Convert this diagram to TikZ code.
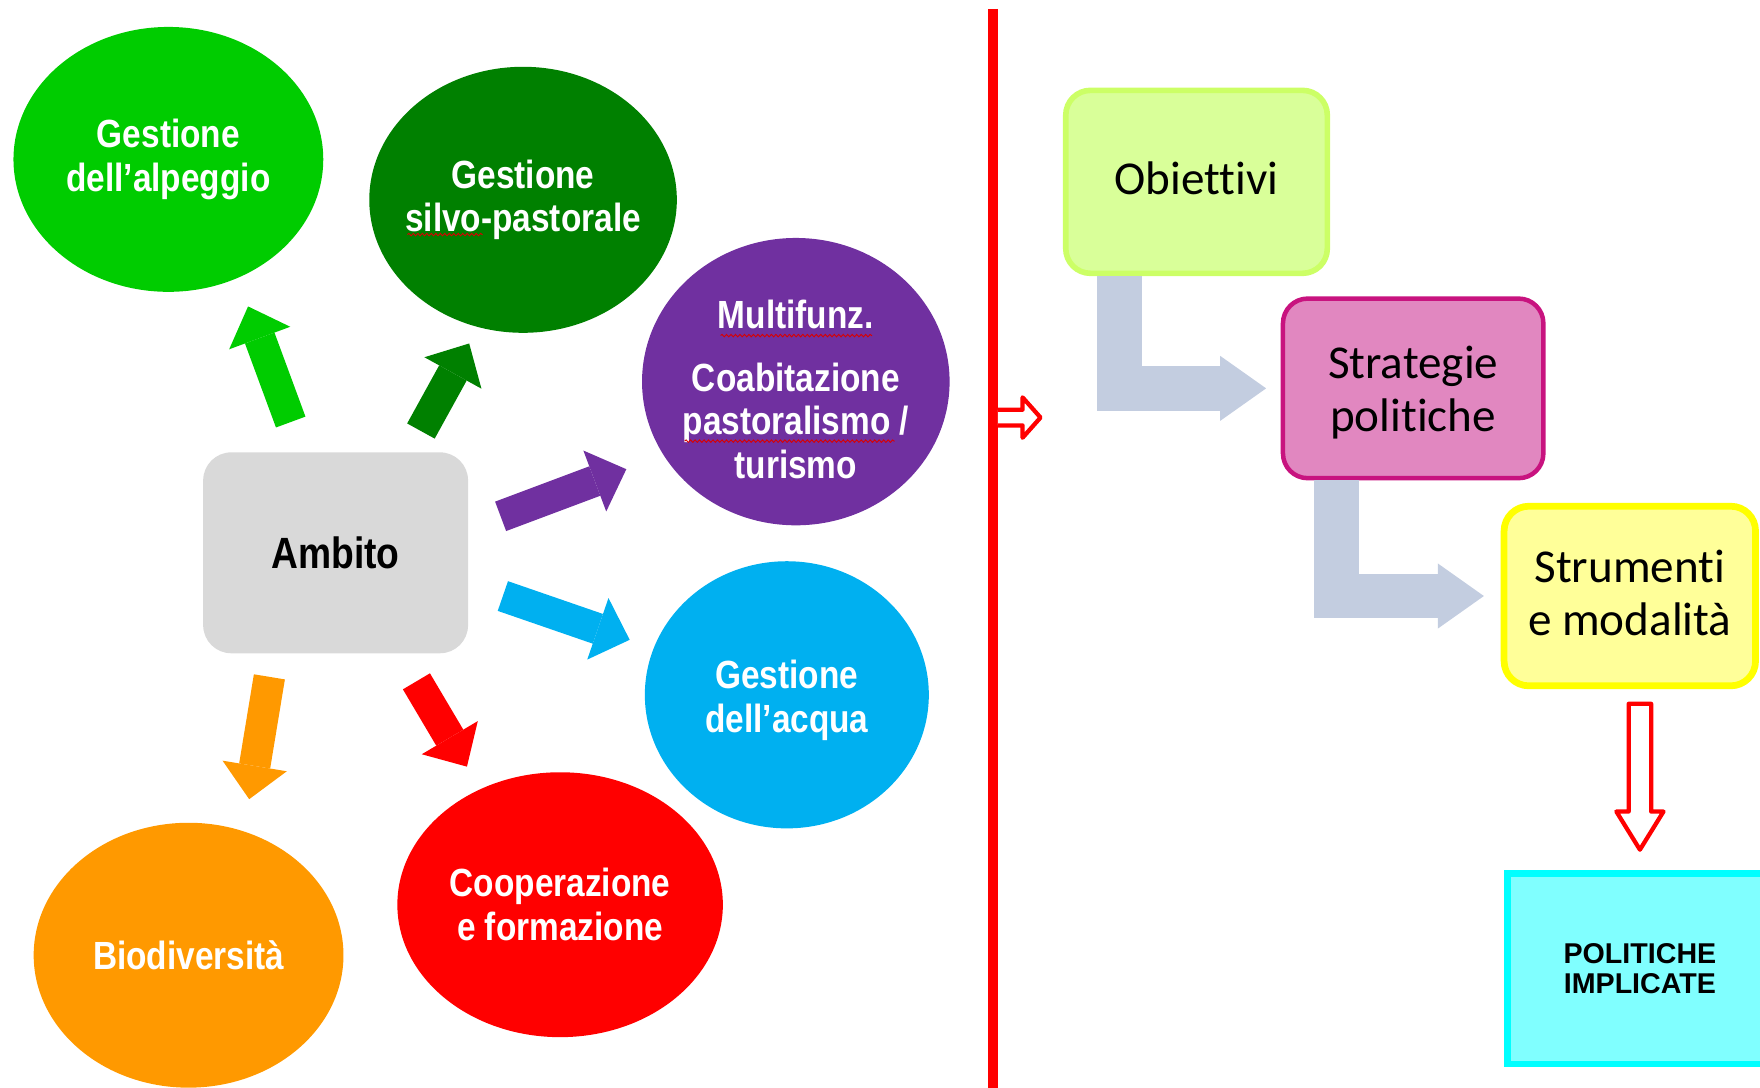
\documentclass[tikz,border=0pt]{standalone}
\usepackage{fontspec}
\setmainfont{Liberation Sans}
\newfontfamily\narrowsans[FakeStretch=0.85]{Liberation Sans}
\newfontfamily\carlitofont[Ligatures=NoCommon]{Carlito}
\usetikzlibrary{arrows.meta,shapes.geometric,decorations.pathmorphing,calc}

\definecolor{cAlp}{HTML}{00CC00}
\definecolor{cSilvo}{HTML}{008000}
\definecolor{cMulti}{HTML}{7030A0}
\definecolor{cAcqua}{HTML}{00B0F0}
\definecolor{cCoop}{HTML}{FF0000}
\definecolor{cBio}{HTML}{FF9900}
\definecolor{ambitogray}{HTML}{D9D9D9}
\definecolor{objfill}{HTML}{D9FF99}
\definecolor{objline}{HTML}{CCFF66}
\definecolor{strfill}{HTML}{E187C0}
\definecolor{strline}{HTML}{C8137F}
\definecolor{strumfill}{HTML}{FFFF99}
\definecolor{strumline}{HTML}{FFFF00}
\definecolor{bentgray}{HTML}{C3CDE0}
\definecolor{polfill}{HTML}{80FFFF}
\definecolor{polline}{HTML}{00FFFF}

\begin{document}
\begin{tikzpicture}[x=1pt,y=-1pt,
  bubble/.style={ellipse, fill=#1, draw=none, inner sep=0pt},
  bubbletext/.style={text=white, align=center, inner sep=0pt,
    font=\narrowsans\bfseries\fontsize{35}{39}\selectfont},
  blockarrow/.style={draw=#1, line width=28pt,
    -{Triangle[width=58pt,length=30pt,line width=0pt]}},
  stepbox/.style={rounded corners=22pt, inner sep=0pt, align=center,
    font=\carlitofont\fontsize{42}{47}\selectfont},
  bentarrow/.style={draw=bentgray, line width=40pt,
    -{Triangle[width=58pt,length=41pt,line width=0pt]}},
  hollowarrow/.style={draw=red, fill=white, line width=3.8pt, line join=round},
  squiggle/.style={draw=red!85!black, line width=0.8pt,
    decorate, decoration={snake, amplitude=1.1pt, segment length=4pt}}
]
\useasboundingbox (0,0) rectangle (1568,969);

% ---- left: thematic areas around "Ambito" ----
\node[bubble=cAlp,   minimum width=276pt, minimum height=236pt] (alp)   at (150,142) {};
\node[bubble=cSilvo, minimum width=274pt, minimum height=237pt] (silvo) at (466,178) {};
\node[bubble=cMulti, minimum width=274pt, minimum height=256pt] (multi) at (709,340) {};
\node[bubble=cAcqua, minimum width=253pt, minimum height=238pt] (acqua) at (701,619) {};
\node[bubble=cCoop,  minimum width=290pt, minimum height=236pt] (coop)  at (499,806) {};
\node[bubble=cBio,   minimum width=276pt, minimum height=236pt] (bio)   at (168,851) {};

\node[bubbletext] (alpt)   at (alp)   {Gestione\\dell’alpeggio};
\node[bubbletext] (silvot) at (silvo) {Gestione\\silvo-pastorale};
\node[bubbletext] (multit) at ($(multi)+(0,7)$) {Multifunz.\\[17pt]Coabitazione\\pastoralismo /\\turismo};
\node[bubbletext] (acquat) at ($(acqua)+(0,5)$) {Gestione\\dell’acqua};
\node[bubbletext] (coopt)  at (coop)  {Cooperazione\\e formazione};
\node[bubbletext] (biot)   at (bio)   {Biodiversità};

% spell-check marks under some words
\draw[squiggle] (363,209) -- (430,209);
\draw[squiggle] (642,299) -- (777,299);
\draw[squiggle] (610,393) -- (797,393);

\node[fill=ambitogray, rounded corners=25pt, minimum width=236pt, minimum height=179pt,
  inner sep=0pt, font=\narrowsans\bfseries\fontsize{39}{43}\selectfont] (ambito) at (299,492.5) {Ambito};

% block arrows from Ambito towards each area
\coordinate (alp0)   at (259,376); \coordinate (alp1)   at (221,273);
\coordinate (silvo0) at (375,384); \coordinate (silvo1) at (418,306);
\coordinate (multi0) at (446,460); \coordinate (multi1) at (558,418);
\coordinate (acqua0) at (448,531); \coordinate (acqua1) at (561,570);
\coordinate (bio0)   at (240,603); \coordinate (bio1)   at (222,712);
\coordinate (coop0)  at (371,607); \coordinate (coop1)  at (416,683);
\draw[blockarrow=cAlp]   (alp0)   -- (alp1);
\draw[blockarrow=cSilvo] (silvo0) -- (silvo1);
\draw[blockarrow=cMulti] (multi0) -- (multi1);
\draw[blockarrow=cAcqua] (acqua0) -- (acqua1);
\draw[blockarrow=cBio]   (bio0)   -- (bio1);
\draw[blockarrow=cCoop]  (coop0)  -- (coop1);

% ---- divider ----
\coordinate (divtop) at (885,8);
\coordinate (divbot) at (885,985);
\coordinate (divmid) at (885,372);
\draw[red, line width=9pt] (divtop) -- (divbot);
\draw[hollowarrow, shift={(divmid)}]
  (4,-7) -- (26,-7) -- (26,-18) -- (42,0) -- (26,18) -- (26,7) -- (4,7);

% ---- right: policy chain ----
\node[stepbox, fill=objfill, draw=objline, line width=5pt,
  minimum width=233pt, minimum height=163pt] (obj) at (1066,162) {};
\node[font=\carlitofont\fontsize{42}{47}\selectfont, inner sep=0pt] (objt)
  at ($(obj)+(0,-3)$) {Obiettivi};

\node[stepbox, fill=strfill, draw=strline, line width=4pt,
  minimum width=232pt, minimum height=160pt] (strat) at (1259,346) {};
\node[font=\carlitofont\fontsize{42}{47}\selectfont, inner sep=0pt, align=center] (stratt)
  at ($(strat)+(0,4)$) {Strategie\\politiche};

\node[stepbox, fill=strumfill, draw=strumline, line width=6pt,
  minimum width=224pt, minimum height=160pt] (strum) at (1452,531) {};
\node[font=\carlitofont\fontsize{42}{47}\selectfont, inner sep=0pt, align=center] (strumt)
  at ($(strum)+(0,-3)$) {Strumenti\\e modalità};

\draw[bentarrow] ($(obj.south west)+(50,0)$) |- ([xshift=-13pt]strat.west);
\draw[bentarrow] ($(strat.south west)+(50,0)$) |- ([xshift=-15pt]strum.west);

\node[fill=polfill, draw=polline, line width=6pt, minimum width=236pt,
  minimum height=170pt, inner sep=0pt] (pol) at (1461,863) {};
\node[font=\bfseries\fontsize{25.5}{27}\selectfont, align=center, inner sep=0pt] (polt)
  at (pol) {POLITICHE\\IMPLICATE};

\draw[hollowarrow, shift={(pol.north)}]
  (-10,-148) -- (10,-148) -- (10,-52) -- (21,-52) -- (0,-18) -- (-21,-52) -- (-10,-52) -- cycle;
\end{tikzpicture}
\end{document}
